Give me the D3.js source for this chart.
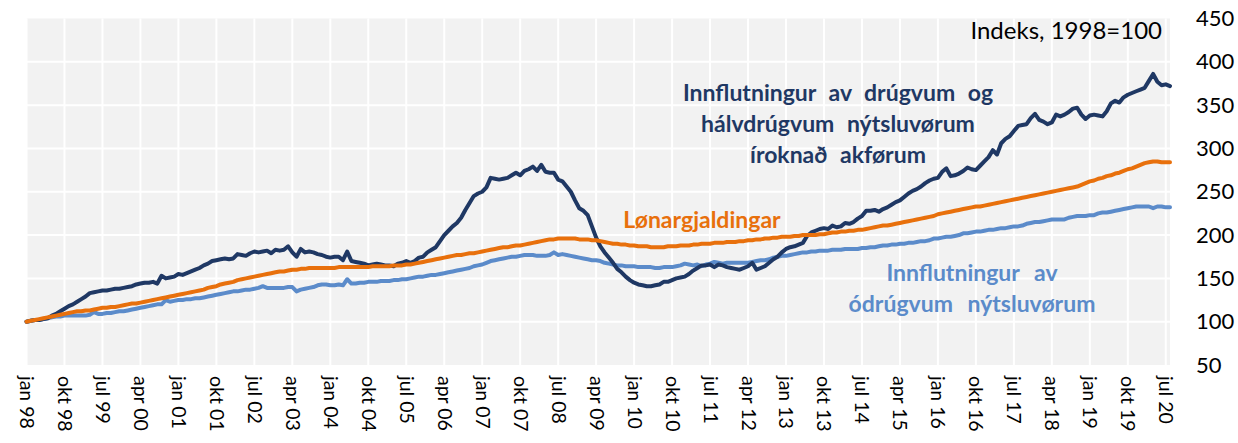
<!DOCTYPE html>
<html>
<head>
<meta charset="utf-8">
<script src="https://cdn.jsdelivr.net/npm/d3@7"></script>
<style>
  body { margin: 0; background: #fff; }
  svg text { font-family: Lato, sans-serif; }
</style>
</head>
<body>
<svg id="chart" width="1238" height="443"></svg>
<script>
// monthly index values, jan 1998 = first point, 1998 = 100
const durable = [
  100, 101, 102, 102, 103, 104, 107, 109, 112, 115, 118, 120, // 1998
  123, 126, 129, 133, 134, 135, 136, 136, 137, 138, 138, 139, // 1999
  140, 141, 143, 144, 145, 145, 146, 144, 153, 150, 151, 152, // 2000
  155, 154, 156, 158, 160, 162, 165, 167, 170, 171, 172, 173, // 2001
  172, 173, 178, 177, 176, 179, 181, 180, 181, 182, 179, 183, // 2002
  182, 183, 187, 180, 175, 184, 180, 181, 180, 178, 177, 175, // 2003
  174, 175, 175, 171, 181, 170, 169, 168, 167, 165, 166, 167, // 2004
  166, 165, 165, 164, 167, 168, 170, 168, 170, 174, 175, 180, // 2005
  183, 186, 193, 200, 205, 210, 214, 220, 229, 237, 245, 248, // 2006
  250, 255, 266, 265, 264, 265, 266, 269, 272, 269, 274, 276, // 2007
  279, 274, 281, 273, 272, 272, 264, 262, 256, 250, 240, 231, // 2008
  228, 223, 210, 197, 187, 180, 174, 168, 161, 157, 152, 148, // 2009
  145, 143, 142, 141, 141, 142, 143, 146, 146, 148, 150, 151, // 2010
  152, 155, 159, 162, 165, 165, 166, 163, 166, 165, 163, 162, // 2011
  161, 160, 162, 164, 168, 160, 162, 164, 168, 172, 175, 180, // 2012
  184, 186, 187, 189, 191, 199, 203, 205, 207, 208, 207, 211, // 2013
  209, 210, 214, 213, 215, 219, 222, 228, 228, 229, 227, 230, // 2014
  232, 235, 238, 240, 244, 248, 251, 253, 256, 260, 263, 265, // 2015
  266, 273, 277, 268, 269, 271, 274, 278, 276, 275, 280, 285, // 2016
  290, 298, 293, 306, 311, 314, 320, 326, 327, 328, 335, 340, // 2017
  333, 331, 328, 330, 339, 337, 339, 342, 346, 347, 339, 334, // 2018
  338, 339, 338, 337, 343, 352, 355, 353, 359, 362, 364, 366, // 2019
  368, 370, 378, 386, 377, 373, 374, 372                      // 2020
];

const wages = [
  100, 101, 102, 103, 104, 105, 106, 107, 108, 109, 110, 111,
  112, 112, 113, 113, 114, 115, 116, 116, 117, 117, 118, 119,
  120, 121, 121, 122, 123, 124, 125, 126, 127, 128, 129, 130,
  131, 132, 133, 134, 135, 136, 137, 139, 140, 141, 143, 144,
  145, 146, 148, 149, 150, 151, 152, 153, 154, 155, 156, 157,
  158, 158, 159, 160, 160, 161, 161, 162, 162, 162, 162, 162,
  162, 162, 163, 163, 163, 163, 163, 163, 163, 163, 164, 164,
  164, 164, 164, 165, 165, 165, 166, 166, 167, 168, 169, 170,
  171, 172, 173, 174, 175, 176, 177, 177, 178, 179, 179, 180,
  181, 182, 183, 184, 185, 186, 186, 187, 188, 188, 189, 190,
  191, 192, 193, 194, 195, 195, 196, 196, 196, 196, 196, 195,
  195, 195, 194, 194, 193, 192, 191, 190, 190, 189, 189, 188,
  188, 187, 187, 187, 186, 186, 186, 186, 187, 187, 187, 188,
  188, 188, 189, 189, 190, 190, 190, 191, 191, 191, 192, 192,
  192, 193, 193, 194, 194, 195, 195, 196, 196, 197, 197, 198,
  198, 198, 199, 199, 200, 200, 200, 200, 201, 201, 202, 203,
  203, 204, 204, 205, 205, 206, 206, 207, 208, 209, 210, 211,
  211, 212, 213, 214, 215, 216, 217, 218, 219, 220, 221, 222,
  224, 225, 226, 227, 228, 229, 230, 231, 232, 233, 233, 234,
  235, 236, 237, 238, 239, 240, 241, 242, 243, 244, 245, 246,
  247, 248, 249, 250, 251, 252, 253, 254, 255, 256, 258, 260,
  262, 263, 265, 266, 268, 269, 271, 272, 274, 276, 277, 279,
  281, 283, 284, 285, 285, 284, 284, 284
];

const nonDurable = [
  100, 101, 102, 102, 103, 104, 105, 106, 106, 107, 107, 107,
  107, 107, 107, 108, 111, 109, 109, 110, 110, 111, 112, 112,
  113, 114, 115, 116, 117, 118, 119, 120, 120, 125, 123, 124,
  125, 125, 126, 126, 127, 127, 128, 129, 130, 131, 132, 133,
  134, 135, 135, 136, 137, 137, 138, 139, 141, 139, 139, 139,
  139, 139, 140, 140, 135, 137, 138, 139, 140, 142, 143, 143,
  142, 142, 143, 142, 149, 144, 144, 145, 145, 146, 146, 146,
  147, 147, 147, 148, 148, 149, 149, 150, 151, 152, 152, 153,
  154, 154, 155, 156, 157, 158, 159, 160, 161, 162, 164, 165,
  166, 168, 170, 171, 172, 173, 174, 175, 175, 176, 177, 177,
  177, 176, 176, 176, 177, 180, 177, 178, 177, 176, 175, 174,
  173, 172, 171, 171, 170, 168, 167, 166, 165, 165, 164, 164,
  164, 163, 163, 163, 163, 162, 162, 163, 163, 163, 164, 165,
  167, 166, 165, 166, 164, 166, 167, 169, 168, 167, 168, 168,
  168, 168, 168, 168, 169, 170, 171, 171, 172, 174, 175, 176,
  176, 177, 178, 179, 180, 180, 181, 181, 182, 182, 182, 183,
  183, 183, 184, 184, 184, 184, 185, 185, 186, 186, 187, 188,
  188, 189, 189, 190, 190, 191, 191, 192, 193, 193, 194, 196,
  196, 197, 198, 198, 199, 200, 202, 202, 203, 204, 204, 205,
  206, 206, 207, 208, 208, 209, 210, 210, 211, 213, 214, 215,
  215, 216, 217, 218, 218, 218, 218, 220, 221, 222, 222, 222,
  223, 223, 225, 226, 226, 227, 228, 229, 230, 231, 232, 233,
  233, 233, 233, 231, 233, 233, 232, 232
];

const tickLabels = [
  "jan 98", "okt 98", "jul 99", "apr 00", "jan 01", "okt 01", "jul 02", "apr 03",
  "jan 04", "okt 04", "jul 05", "apr 06", "jan 07", "okt 07", "jul 08", "apr 09",
  "jan 10", "okt 10", "jul 11", "apr 12", "jan 13", "okt 13", "jul 14", "apr 15",
  "jan 16", "okt 16", "jul 17", "apr 18", "jan 19", "okt 19", "jul 20"
];
const tickStep = 9; // months between labels
const yTicks = [50, 100, 150, 200, 250, 300, 350, 400, 450];

const navy = "#1f3864", orange = "#e8700c", lightBlue = "#5b8bca";

const svg = d3.select("#chart");
const plotLeft = 26.5, plotRight = 1170, plotTop = 18.5, plotBottom = 365;

const x = d3.scaleLinear().domain([0, durable.length - 1]).range([plotLeft, plotRight]);
const y = d3.scaleLinear().domain([50, 450]).range([plotBottom, plotTop]);
const tickMonths = tickLabels.map((d, i) => i * tickStep);

// plot background + grid
svg.append("rect")
    .attr("x", plotLeft).attr("y", plotTop)
    .attr("width", plotRight - plotLeft).attr("height", plotBottom - plotTop)
    .attr("fill", "#f2f2f2");

svg.append("g")
  .selectAll("line")
  .data(yTicks.slice(1, -1))
  .enter().append("line")
    .attr("x1", plotLeft).attr("x2", plotRight)
    .attr("y1", d => y(d)).attr("y2", d => y(d))
    .attr("stroke", "#fff").attr("stroke-width", 2);

svg.append("g")
  .selectAll("line")
  .data(tickMonths)
  .enter().append("line")
    .attr("x1", d => x(d)).attr("x2", d => x(d))
    .attr("y1", plotTop).attr("y2", plotBottom)
    .attr("stroke", "#fff").attr("stroke-width", 2);

// axes
const yAxis = svg.append("g")
    .attr("transform", "translate(1190,0)")
    .call(d3.axisRight(y).tickValues(yTicks).tickSize(0).tickPadding(6));
yAxis.select(".domain").remove();
yAxis.selectAll("text")
    .attr("font-family", "Lato, sans-serif")
    .attr("font-size", 22)
    .attr("fill", "#000");

const xAxis = svg.append("g")
    .attr("transform", "translate(0," + plotBottom + ")")
    .call(d3.axisBottom(x).tickValues(tickMonths).tickSize(0)
      .tickFormat((d, i) => tickLabels[i]));
xAxis.select(".domain").remove();
xAxis.selectAll("text")
    .attr("font-family", "'DejaVu Sans', sans-serif")
    .attr("font-size", 19.5)
    .attr("fill", "#000")
    .attr("text-anchor", "start")
    .attr("transform", "rotate(90)")
    .attr("x", 11)
    .attr("y", 0)
    .attr("dy", "0.36em");

// lines
const line = d3.line()
    .x((d, i) => x(i))
    .y(d => y(d));

[[nonDurable, lightBlue], [durable, navy], [wages, orange]].forEach(([data, color]) => {
  svg.append("path")
      .datum(data)
      .attr("fill", "none")
      .attr("stroke", color)
      .attr("stroke-width", 4)
      .attr("stroke-linejoin", "round")
      .attr("stroke-linecap", "round")
      .attr("d", line);
});

// texts
svg.append("text")
    .attr("x", 1162).attr("y", 39)
    .attr("text-anchor", "end")
    .attr("font-size", 24)
    .attr("fill", "#000")
    .text("Indeks, 1998=100");

function label(lines, cx, y0, color, spacing) {
  const t = svg.append("text")
      .attr("text-anchor", "middle")
      .attr("font-size", 23)
      .attr("font-weight", "bold")
      .attr("word-spacing", spacing)
      .attr("fill", color);
  lines.forEach((s, i) => {
    t.append("tspan").attr("x", cx).attr("y", y0 + i * 31).text(s);
  });
}

label(["Innflutningur av drúgvum og", "hálvdrúgvum nýtsluvørum", "íroknað akførum"], 838, 101, navy, 7);
label(["Lønargjaldingar"], 702, 228, orange, 0);
label(["Innflutningur av", "ódrúgvum nýtsluvørum"], 972, 281, lightBlue, 9);
</script>
</body>
</html>
